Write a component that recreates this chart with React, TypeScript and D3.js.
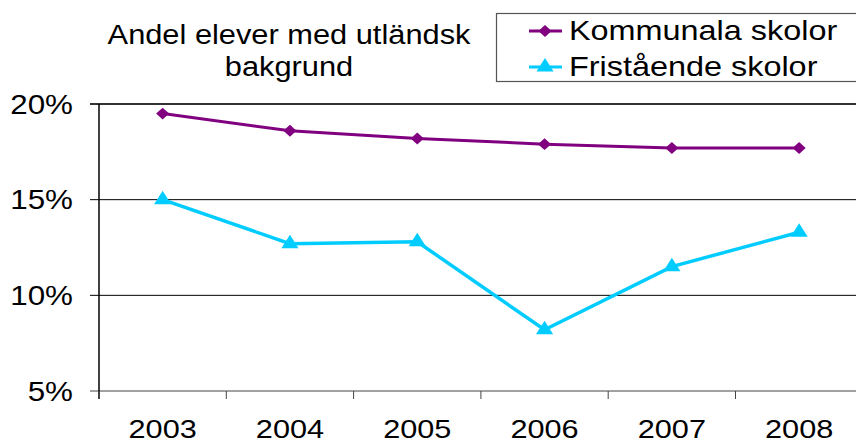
import React, { useRef, useEffect } from "react";
import * as d3 from "d3";

const years = ["2003", "2004", "2005", "2006", "2007", "2008"];
const kommunala = [19.5, 18.6, 18.2, 17.9, 17.7, 17.7];
const fristaende = [15.0, 12.7, 12.8, 8.2, 11.5, 13.3];
const yTicks = [5, 10, 15, 20];
const seriesNames = ["Kommunala skolor", "Fristående skolor"];
const titleLines = ["Andel elever med utländsk", "bakgrund"];

const W = 856;
const H = 442;
const FONT = "'Liberation Sans', Arial, sans-serif";

const App = () => {
    const ref = useRef<SVGSVGElement>(null);

    useEffect(() => {
        const svg = d3.select(ref.current);
        svg.selectAll("*").remove();

        const left = 99;
        const step = 127.3;
        const x = d3.scaleBand()
            .domain(years)
            .range([left, left + step * years.length]);
        const cx = (i: number) => (x(years[i]) as number) + x.bandwidth() / 2;

        const y = d3.scaleLinear()
            .domain([5, 20])
            .range([391, 104]);

        // gridlines + left ticks
        svg.append("g")
            .selectAll("line")
            .data(yTicks)
            .join("line")
            .attr("x1", left - 9)
            .attr("x2", W)
            .attr("y1", d => y(d))
            .attr("y2", d => y(d))
            .attr("stroke", d => d === 20 ? "#333" : d === 5 ? "#444" : "#000")
            .attr("stroke-width", d => d === 20 ? 1.8 : 1);

        svg.append("g")
            .selectAll("text")
            .data(yTicks)
            .join("text")
            .attr("transform", d => `translate(73,${y(d) + 9.5}) scale(1.12,1)`)
            .attr("text-anchor", "end")
            .attr("font-family", FONT)
            .attr("font-size", 28)
            .text(d => d + "%");

        // y axis
        svg.append("line")
            .attr("x1", left).attr("x2", left)
            .attr("y1", y(20)).attr("y2", y(5) + 8)
            .attr("stroke", "#000").attr("stroke-width", 1.5);

        // x ticks
        const edges = d3.range(years.length + 1).map(i => left + step * i);
        svg.append("g")
            .selectAll("line")
            .data(edges)
            .join("line")
            .attr("x1", d => d).attr("x2", d => d)
            .attr("y1", y(5)).attr("y2", y(5) + 8)
            .attr("stroke", "#444");

        svg.append("g")
            .selectAll("text")
            .data(years)
            .join("text")
            .attr("transform", (_, i) => `translate(${cx(i)},438) scale(1.18,1)`)
            .attr("text-anchor", "middle")
            .attr("font-family", FONT)
            .attr("font-size", 26)
            .text(d => d);

        const line = d3.line<number>()
            .x((_, i) => cx(i))
            .y(d => y(d));

        const diamond = d3.symbol().type(d3.symbolDiamond2).size(90);
        const triangle = d3.symbol().type(d3.symbolTriangle).size(105);

        const series = [
            { vals: kommunala, color: "#800080", sym: diamond, w: 3 },
            { vals: fristaende, color: "#00CCFF", sym: triangle, w: 3.5 },
        ];

        series.forEach(s => {
            svg.append("path")
                .datum(s.vals)
                .attr("fill", "none")
                .attr("stroke", s.color)
                .attr("stroke-width", s.w)
                .attr("d", line);
            svg.append("g")
                .selectAll("path")
                .data(s.vals)
                .join("path")
                .attr("transform", (d, i) => `translate(${cx(i)},${y(d)}) scale(1.1,1)`)
                .attr("fill", s.color)
                .attr("d", s.sym() as string);
        });

        // title
        svg.append("g")
            .selectAll("text")
            .data(titleLines)
            .join("text")
            .attr("transform", (_, i) => `translate(289,${44 + i * 32}) scale(1.1,1)`)
            .attr("text-anchor", "middle")
            .attr("font-family", FONT)
            .attr("font-size", 28)
            .text(d => d);

        // legend
        const lg = svg.append("g");
        lg.append("rect")
            .attr("x", 496.5).attr("y", 13.5)
            .attr("width", 380).attr("height", 68)
            .attr("fill", "white")
            .attr("stroke", "#555").attr("stroke-width", 1.2);

        seriesNames.forEach((name, i) => {
            const ly = 31 + i * 36;
            const s = series[i];
            lg.append("line")
                .attr("x1", 529).attr("x2", 562)
                .attr("y1", ly).attr("y2", ly)
                .attr("stroke", s.color).attr("stroke-width", 3);
            lg.append("path")
                .attr("transform", `translate(545,${ly}) scale(1.1,1)`)
                .attr("fill", s.color)
                .attr("d", s.sym() as string);
            lg.append("text")
                .attr("transform", `translate(569,${ly + 9}) scale(1.2,1)`)
                .attr("font-family", FONT)
                .attr("font-size", 27)
                .text(name);
        });
    }, []);

    return (
        <svg
            ref={ref}
            width={W}
            height={H}
            style={{ position: "absolute", left: 0, top: 0, background: "white" }}
        />
    );
};

export default App;
